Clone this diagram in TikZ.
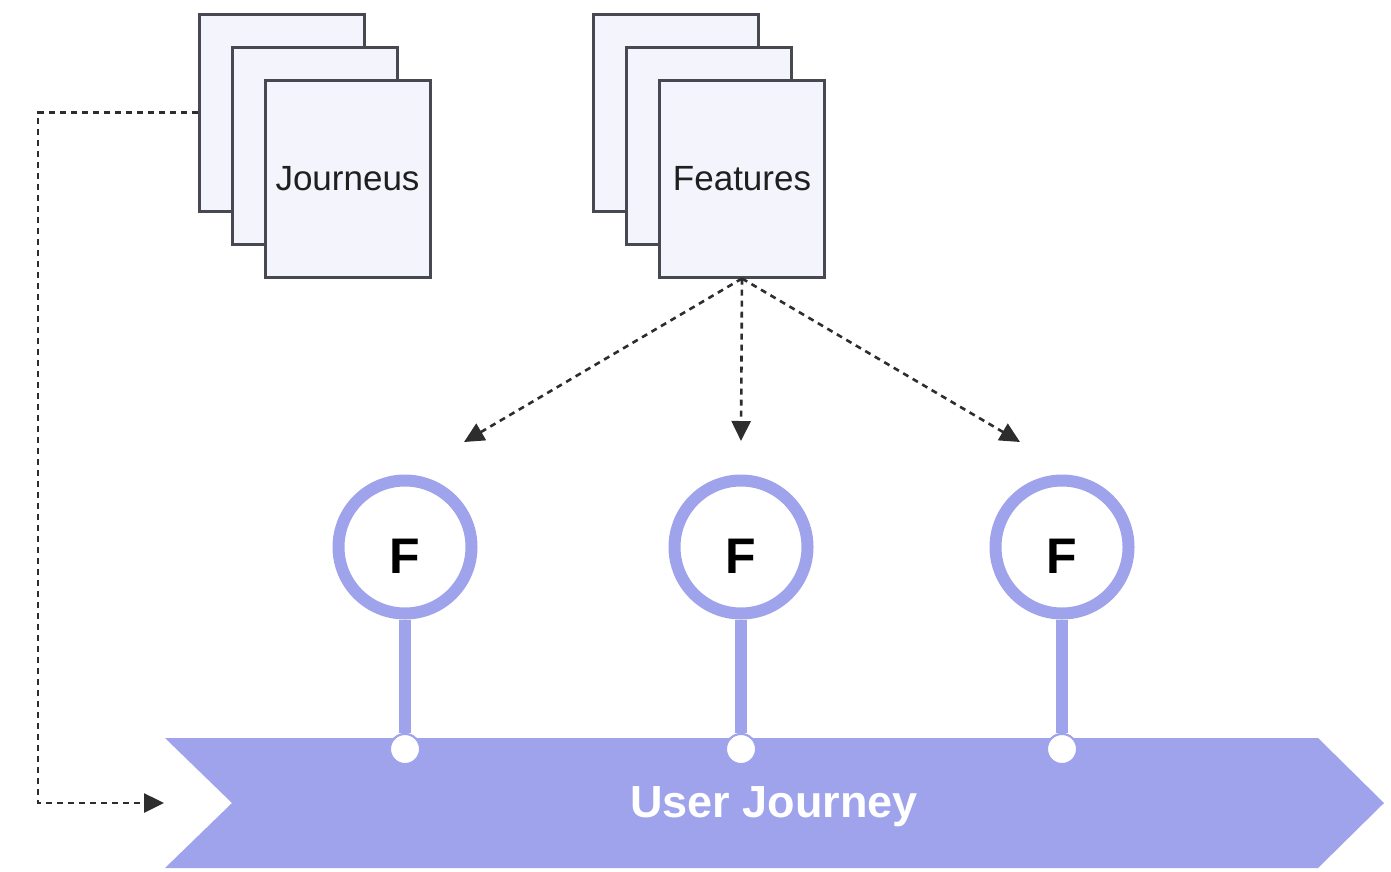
\documentclass[tikz,border=0pt]{standalone}
\usepackage{fontspec}
\setmainfont{Liberation Sans}
\usetikzlibrary{arrows.meta,calc}
\definecolor{lav}{RGB}{158,163,235}
\definecolor{pagefill}{RGB}{244,244,252}
\definecolor{pageline}{RGB}{72,72,82}
\definecolor{linkgray}{RGB}{45,45,45}
\tikzset{
  page/.style={draw=pageline, line width=3pt, fill=pagefill, minimum width=165pt, minimum height=197pt, inner sep=0pt},
  pagetext/.style={font=\fontsize{35}{40}\selectfont, text=black!88},
  link/.style={draw=linkgray, line width=2.6pt, dash pattern=on 6pt off 5pt, -{Triangle[length=20pt,width=19pt]}},
  marker/.style={circle, draw=lav, line width=12pt, fill=white, minimum size=133pt, inner sep=0pt},
  markertext/.style={font=\bfseries\fontsize{50}{55}\selectfont, inner sep=0pt},
  stem/.style={draw=lav, line width=12pt},
  joint/.style={circle, draw=lav, line width=2pt, fill=white, minimum size=30pt, inner sep=0pt},
}
\begin{document}
\begin{tikzpicture}[x=1pt, y=-1pt]
\useasboundingbox (0,0) rectangle (1391,871);

% stacked documents: journeys
\node[page] (jback) at (281.5,112.5) {};
\node[page] (jmid) at (314.5,145.5) {};
\node[page, pagetext] (jfront) at (347.5,178.5) {Journeus};

% stacked documents: features
\node[page] (fback) at (676,112.5) {};
\node[page] (fmid) at (709,145.5) {};
\node[page, pagetext] (ffront) at (742,178.5) {Features};

% user journey band
\fill[lav] (165,738) -- (1318,738) -- (1384,803) -- (1318,868) -- (165,868) -- (232,803) -- cycle;
\node[text=white, font=\bfseries\fontsize{45}{50}\selectfont] (uj) at (774,807) {User Journey};

% feature markers on the band
\foreach \n/\x in {a/405, b/741, c/1062}{
  \node[marker] (mark\n) at (\x,547) {};
  \node[markertext] (flab\n) at (\x,556) {F};
  \node[joint] (pin\n) at (\x,749) {};
  \draw[stem] (mark\n.south) -- (pin\n.north);
  \node[joint] at (pin\n) {};
}

% dashed links
\coordinate (ujin) at (164,803);
\draw[link] (jback.west) -| (38,803) -- (ujin);

\coordinate (fa) at (464,442);
\coordinate (fb) at (741,441);
\coordinate (fc) at (1020,442);
\draw[link] (ffront.south) -- (fa);
\draw[link] (ffront.south) -- (fb);
\draw[link] (ffront.south) -- (fc);
\end{tikzpicture}
\end{document}
